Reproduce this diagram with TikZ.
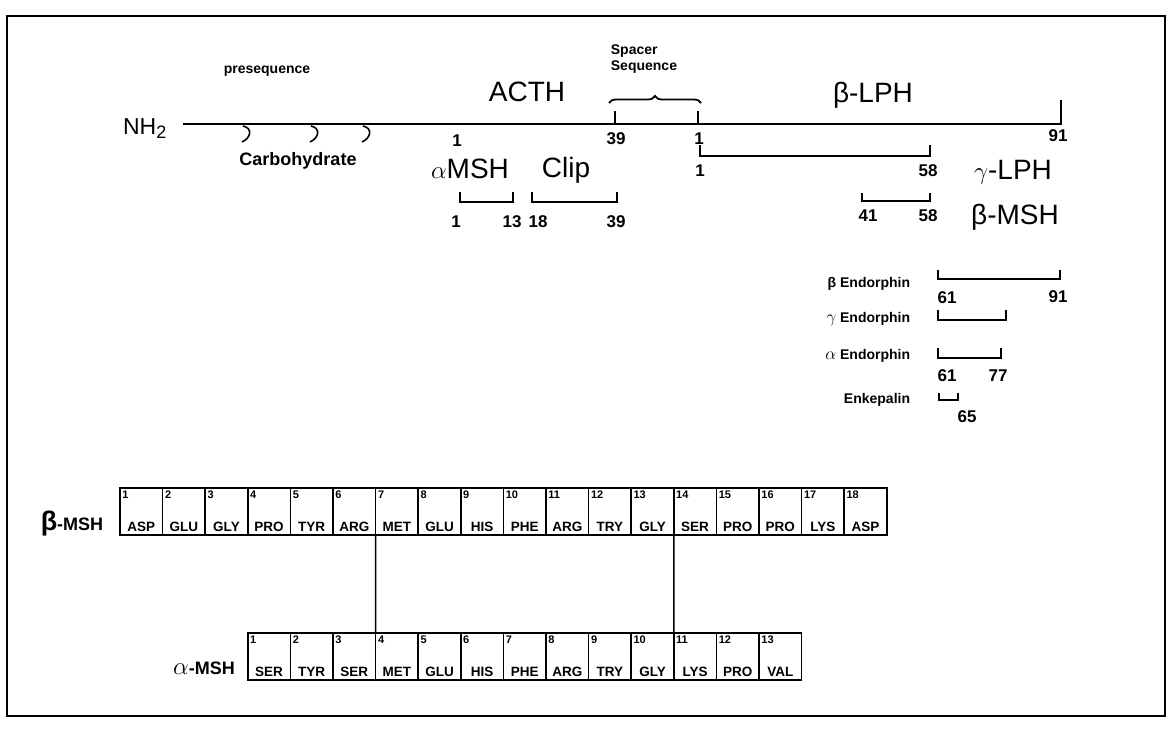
\documentclass[tikz,border=0pt]{standalone}
\usepackage{fontspec}
\setmainfont{Liberation Sans}
\usetikzlibrary{decorations.pathreplacing}
\begin{document}
\begin{tikzpicture}[x=1pt,y=-1pt,line width=1.8pt,
    big/.style={font=\fontsize{28}{28}\selectfont,inner sep=0pt,anchor=base},
    num/.style={font=\fontsize{17}{17}\selectfont\bfseries,inner sep=0pt,anchor=base},
    tag/.style={font=\fontsize{14}{16}\selectfont\bfseries,inner sep=0pt},
    hand/.style={font=\fontsize{13.5}{13.5}\selectfont\bfseries,inner sep=2.5pt,text height=9.5pt,text depth=0pt},
    cellno/.style={font=\fontsize{11}{11}\selectfont\bfseries,anchor=north west,inner sep=1.5pt,text height=8pt,text depth=0pt},
    cell/.style={draw,line width=1.6pt,minimum width=42.6pt,minimum height=47pt,inner sep=0pt,outer sep=0pt}]
  \useasboundingbox (0,0) rectangle (1175,730);
  \draw[line width=2pt] (7,16) rectangle (1165,716);
  % precursor chain
  \node[font=\fontsize{23}{23}\selectfont,inner sep=0pt,anchor=base] (nh) at (145,135) {NH\textsubscript{\fontsize{18}{18}\selectfont 2}};
  \coordinate (cstart) at (183,124);
  \coordinate (cend) at (1061,124);
  \draw (cstart) -- (cend) -- ++(0,-24);
  \draw (615,124) -- ++(0,-13) (698,124) -- ++(0,-13);
  \foreach \cx in {245,313,365}
    \draw[line width=1.6pt] (\cx-2,126) .. controls (\cx+8,128) and (\cx+6,138) .. (\cx-3,142);
  \node[tag,anchor=base] (preseq) at (267,74) {presequence};
  \node[font=\fontsize{18}{18}\selectfont\bfseries,inner sep=0pt,anchor=base] (carb) at (298,166) {Carbohydrate};
  \node[big] (acth) at (527,102) {ACTH};
  \node[big] (blph) at (873,103) {β-LPH};
  \draw[decorate,decoration={brace,amplitude=7pt}] (609,103) -- (701,103);
  \node[tag,anchor=north west,align=left] (spacer) at (610,44) {Spacer\\Sequence};
  \node[num] (n1) at (457,147) {1};
  \node[num] (n39) at (616,145) {39};
  \node[num] (l1) at (699,145) {1};
  \node[num] (l91) at (1058,142) {91};
  % fragments
  \draw (700,145) -- (700,156) -- (930,156) -- (930,145);
  \node[num] (g1) at (700,177) {1};
  \node[num] (g58) at (928,177) {58};
  \node[big] (glph) at (1013,180) {{\fontsize{32}{32}\selectfont$\gamma$}-LPH};
  \draw (862,193) -- (862,201) -- (930,201) -- (930,193);
  \node[num] (m41) at (868,222) {41};
  \node[num] (m58) at (928,222) {58};
  \node[big] (bmsh) at (1015,225) {β-MSH};
  \node[big] (amsh) at (470,179) {{\fontsize{32}{32}\selectfont$\alpha$}MSH};
  \node[big] (clip) at (566,178) {Clip};
  \draw (460,192) -- (460,202) -- (513,202) -- (513,192);
  \draw (532,192) -- (532,202) -- (617,202) -- (617,192);
  \node[num] (a1) at (456,228) {1};
  \node[num] (a13) at (512,228) {13};
  \node[num] (c18) at (538,228) {18};
  \node[num] (c39) at (616,228) {39};
  % endorphins
  \node[tag,anchor=base east] (bend) at (911,287) {β Endorphin};
  \node[tag,anchor=base east] (gend) at (911,322) {{\fontsize{17}{17}\selectfont$\gamma$} Endorphin};
  \node[tag,anchor=base east] (aend) at (911,359) {{\fontsize{17}{17}\selectfont$\alpha$} Endorphin};
  \node[tag,anchor=base east] (enk) at (911,403) {Enkepalin};
  \draw (938,270) -- (938,279) -- (1060,279) -- (1060,270);
  \draw (938,310) -- (938,320) -- (1006,320) -- (1006,310);
  \draw (938,348) -- (938,358) -- (1001,358) -- (1001,348);
  \draw (939,393) -- (939,400) -- (958,400) -- (958,393);
  \node[num] (e61) at (947,303) {61};
  \node[num] (e91) at (1058,302) {91};
  \node[num] (f61) at (947,381) {61};
  \node[num] (f77) at (998,381) {77};
  \node[num] (k65) at (967,422) {65};
  % sequences
  \foreach \r [count=\k] in {ASP,GLU,GLY,PRO,TYR,ARG,MET,GLU,HIS,PHE,ARG,TRY,GLY,SER,PRO,PRO,LYS,ASP}
    \node[cell,label={[cellno]north west:\k},label={[hand,anchor=south]south:\r}] (b\k) at ({120+42.6*(\k-0.5)},511.5) {};
  \foreach \r [count=\k] in {SER,TYR,SER,MET,GLU,HIS,PHE,ARG,TRY,GLY,LYS,PRO,VAL}
    \node[cell,label={[cellno]north west:\k},label={[hand,anchor=south]south:\r}] (a\k) at ({247.8+42.6*(\k-0.5)},656.5) {};
  \draw[line width=1.5pt] (b7.south west) -- (a4.north west);
  \draw[line width=1.5pt] (b14.south west) -- (a11.north west);
  \node[font=\fontsize{18}{18}\selectfont\bfseries,inner sep=0pt,anchor=base] (blab) at (72,530) {{\fontsize{27}{27}\selectfont β}-MSH};
  \node[font=\fontsize{18}{18}\selectfont\bfseries,inner sep=0pt,anchor=base] (alab) at (204,674) {{\fontsize{28}{28}\selectfont$\alpha$}-MSH};
\end{tikzpicture}
\end{document}
